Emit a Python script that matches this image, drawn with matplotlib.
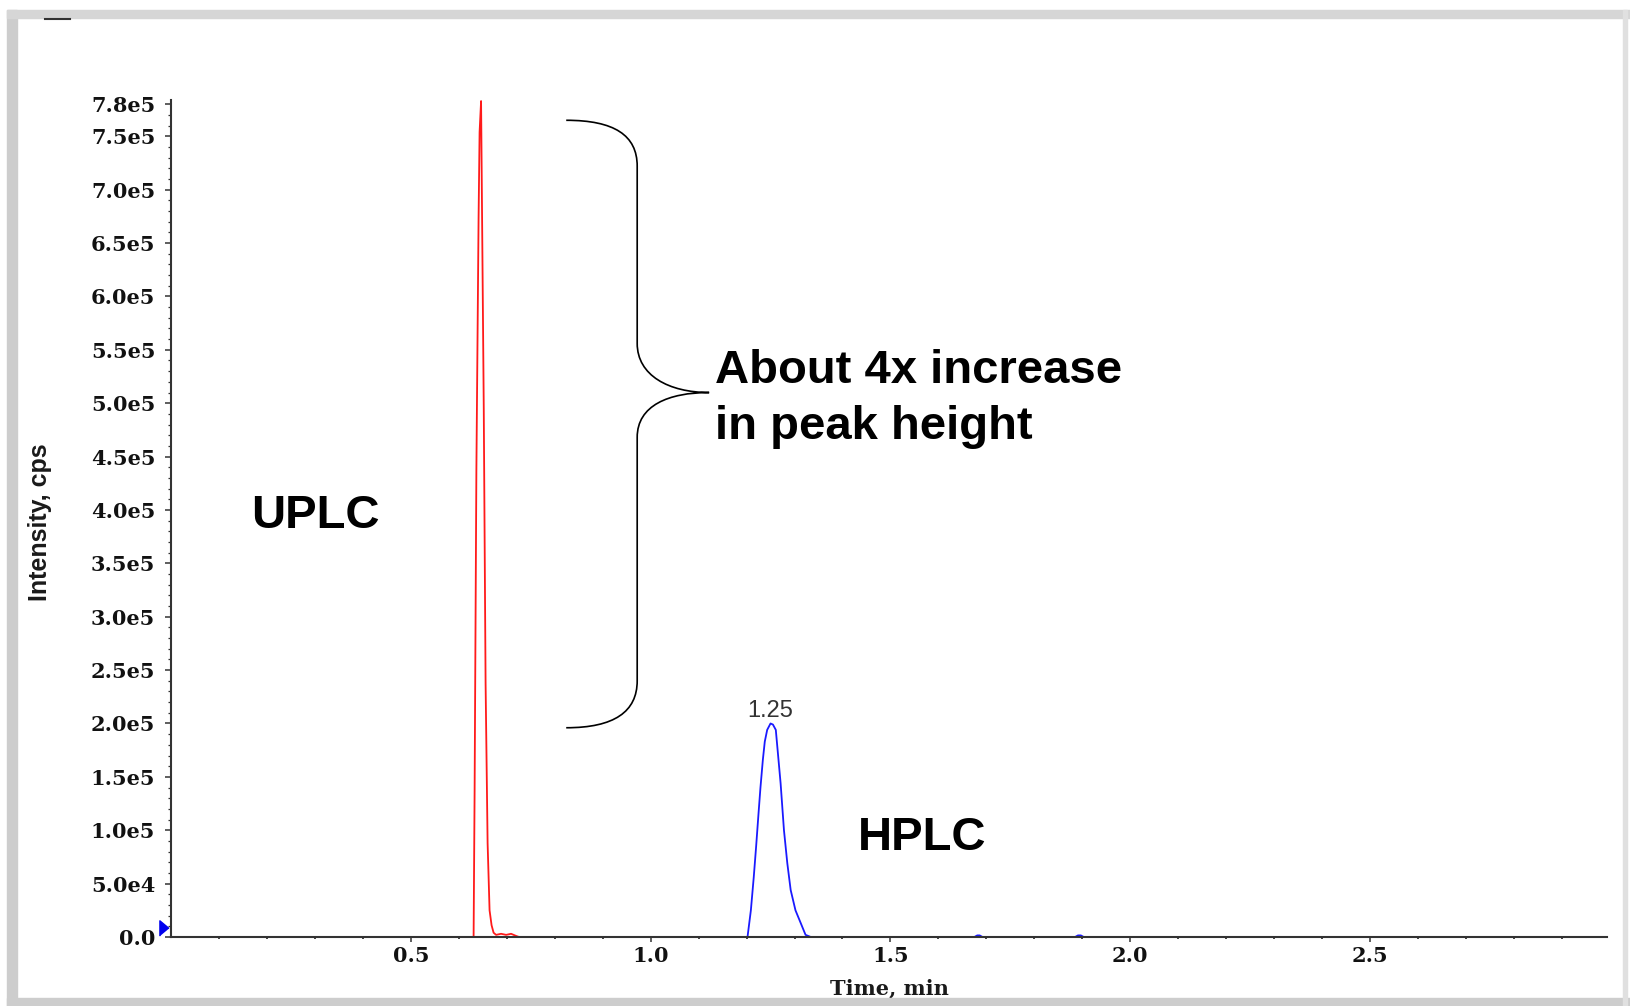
import matplotlib.pyplot as plt
import numpy as np
from matplotlib.patches import Rectangle, PathPatch
from matplotlib.path import Path
from matplotlib.lines import Line2D


# UPLC run (red trace), time in min, intensity in cps
uplc_time = [0.6215, 0.6309, 0.6330, 0.6367, 0.6413, 0.6434, 0.6465, 0.6486,
             0.6521, 0.6559, 0.6601, 0.6642, 0.6684, 0.6726, 0.6778, 0.6882,
             0.6987, 0.7091, 0.7195, 0.7257]
uplc_cps = [0, 0, 1.36e5, 4.37e5, 6.74e5, 7.54e5, 7.83e5, 6.74e5,
            4.95e5, 2.38e5, 0.88e5, 0.25e5, 0.11e5, 0.04e5, 0.02e5, 0.03e5,
            0.02e5, 0.03e5, 0.01e5, 0]

# HPLC run (blue trace)
hplc_time = [1.195, 1.202, 1.209, 1.215, 1.220, 1.225, 1.229, 1.234, 1.238,
             1.243, 1.250, 1.255, 1.261, 1.266, 1.271, 1.278, 1.285, 1.292,
             1.302, 1.313, 1.323, 1.334, 1.345,
             1.675, 1.681, 1.686, 1.692, 1.885, 1.891, 1.897, 1.903]
hplc_cps = [0, 0, 0.25e5, 0.56e5, 0.85e5, 1.16e5, 1.40e5, 1.66e5, 1.83e5,
            1.94e5, 2.00e5, 1.99e5, 1.94e5, 1.69e5, 1.44e5, 1.00e5, 0.69e5, 0.44e5,
            0.25e5, 0.13e5, 0.02e5, 0, 0,
            0, 0.015e5, 0.015e5, 0, 0, 0.015e5, 0.015e5, 0]

hplc_apex = 1.25

y_ticks = [0, 5e4, 1e5, 1.5e5, 2e5, 2.5e5, 3e5, 3.5e5, 4e5, 4.5e5, 5e5,
           5.5e5, 6e5, 6.5e5, 7e5, 7.5e5, 7.8e5]
y_labels = ["0.0", "5.0e4", "1.0e5", "1.5e5", "2.0e5", "2.5e5", "3.0e5",
            "3.5e5", "4.0e5", "4.5e5", "5.0e5", "5.5e5", "6.0e5", "6.5e5",
            "7.0e5", "7.5e5", "7.8e5"]
x_ticks = [0.5, 1.0, 1.5, 2.0, 2.5]
x_labels = ["0.5", "1.0", "1.5", "2.0", "2.5"]

W, H = 1631, 1006
fig = plt.figure(figsize=(W / 100, H / 100), dpi=100)
fig.patch.set_facecolor("white")

# window frame
frame = "#cdcdcd"
fig.patches.append(Rectangle((7 / W, 0), 10 / W, 1 - 10 / H, color=frame,
                             transform=fig.transFigure))
fig.patches.append(Rectangle((7 / W, 1 - 18 / H), 1 - 7 / W, 8 / H, color="#d6d6d6",
                             transform=fig.transFigure))
fig.patches.append(Rectangle((7 / W, 0), 1 - 7 / W, 8 / H, color=frame,
                             transform=fig.transFigure))
fig.patches.append(Rectangle((1623 / W, 0), 4 / W, 1 - 10 / H, color="#e0e0e0",
                             transform=fig.transFigure))
fig.lines.append(Line2D([45 / W, 70 / W], [1 - 19 / H, 1 - 19 / H], color="#333333",
                        lw=1.5, transform=fig.transFigure))

ax = fig.add_axes([171 / W, 1 - 937 / H, (1607 - 171) / W, (937 - 100) / H])
ax.set_xlim(0, 2.994)
ax.set_ylim(0, 7.84e5)

ax.plot(uplc_time, uplc_cps, color="#ff1a1a", lw=1.3, zorder=2)
ax.plot(hplc_time, hplc_cps, color="#1a1aff", lw=1.3, zorder=2)

for side in ("top", "right"):
    ax.spines[side].set_visible(False)
for side in ("left", "bottom"):
    ax.spines[side].set_color("#333333")
    ax.spines[side].set_linewidth(1.5)
    ax.spines[side].set_zorder(3)

ax.set_yticks(y_ticks)
ax.set_yticklabels(y_labels)
ax.set_yticks(np.arange(0, 7.8e5 + 1, 1e4), minor=True)
ax.set_xticks(x_ticks)
ax.set_xticklabels(x_labels)
ax.set_xticks(np.arange(0.1, 2.95, 0.1), minor=True)

tick_font = dict(family="DejaVu Serif", weight="bold", size=15)
for lab in ax.get_xticklabels() + ax.get_yticklabels():
    lab.set_fontproperties(tick_font)
    lab.set_color("#111111")

ax.tick_params(axis="y", which="major", length=4.3, width=1.1, color="#333333", pad=7)
ax.tick_params(axis="y", which="minor", length=2.2, width=0.9, color="#333333")
ax.tick_params(axis="x", which="major", length=3.6, width=1.1, color="#333333", pad=3)
ax.tick_params(axis="x", which="minor", length=1.5, width=1.3, color="#333333")

ax.set_xlabel("Time, min", family="DejaVu Serif", weight="bold", size=15, color="#1a1a1a")
ax.xaxis.set_label_coords(0.5, -0.049)
ax.text(-0.0912, 0.496, "Intensity, cps", transform=ax.transAxes, rotation=90,
        ha="center", va="center", family="Liberation Sans", weight="bold", size=18,
        color="#1a1a1a")

# start-of-run marker on the axis
ax.plot([-0.0155], [0.084e5], marker=[(-0.6, -1), (-0.6, 1), (0.6, 0)],
        markersize=11, color="#0000ee", clip_on=False, zorder=4)

# peak label
ax.text(hplc_apex, 2.06e5, "1.25", ha="center", va="baseline",
        family="Liberation Sans", size=17, color="#333333")

# curly brace between the two peak heights
xe, xv, xt = 0.824, 0.972, 1.122
verts = [
    (xe, 7.65e5), (0.924, 7.65e5), (xv, 7.51e5), (xv, 7.22e5),
    (xv, 5.56e5),
    (xv, 5.26e5), (1.038, 5.10e5), (xt, 5.10e5),
    (1.038, 5.10e5), (xv, 4.98e5), (xv, 4.68e5),
    (xv, 2.40e5),
    (xv, 2.11e5), (0.924, 1.96e5), (xe, 1.96e5),
]
codes = [Path.MOVETO, Path.CURVE4, Path.CURVE4, Path.CURVE4,
         Path.LINETO,
         Path.CURVE4, Path.CURVE4, Path.CURVE4,
         Path.CURVE4, Path.CURVE4, Path.CURVE4,
         Path.LINETO,
         Path.CURVE4, Path.CURVE4, Path.CURVE4]
ax.add_patch(PathPatch(Path(verts, codes), fill=False, lw=1.2, color="black",
                       clip_on=False))

big = dict(family="Liberation Sans", weight="bold", size=34, color="black",
           va="baseline", ha="left")
ax.text(0.167, 3.83e5, "UPLC", **big)
ax.text(1.4325, 0.815e5, "HPLC", **big)
ax.text(1.134, 5.19e5, "About 4x increase", **big)
ax.text(1.134, 4.66e5, "in peak height", **big)

fig.savefig("out.png", dpi=100)
